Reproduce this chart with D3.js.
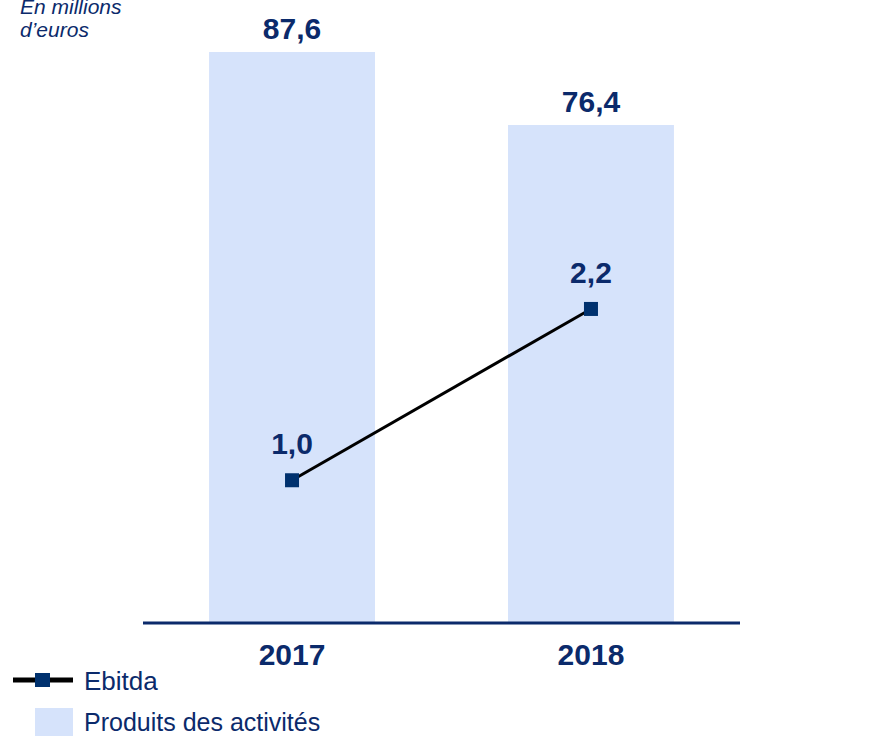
<!DOCTYPE html>
<html>
<head>
<meta charset="utf-8">
<script src="https://cdn.jsdelivr.net/npm/d3@7"></script>
<style>
  html, body { margin: 0; padding: 0; background: #fff; }
  svg { display: block; font-family: "Liberation Sans", Arial, sans-serif; }
</style>
</head>
<body>
<svg id="chart" width="879" height="736"></svg>
<script>
// Chart data
const years = ["2017", "2018"];
const produits = [87.6, 76.4];   // Produits des activités (M€)
const ebitda = [1.0, 2.2];       // Ebitda (M€)
const produitsLabels = ["87,6", "76,4"];
const ebitdaLabels = ["1,0", "2,2"];

const navy = "#0B2A6B";
const barFill = "#D6E3FB";
const labelSize = 30;

const svg = d3.select("#chart");

const baseY = 623;
const x = d3.scaleBand().domain(years).range([143, 740])
  .paddingInner(0.445).paddingOuter(0.221);
const yBar = d3.scaleLinear().domain([0, 87.6]).range([baseY, 52]);
const yLine = d3.scaleLinear().domain([0, 4.0]).range([baseY, 52]);

// Unit note
const unit = svg.append("text").attr("fill", navy)
  .attr("font-size", 21).attr("font-style", "italic");
unit.append("tspan").attr("x", 20).attr("y", 14).text("En millions");
unit.append("tspan").attr("x", 20).attr("y", 37).text("d’euros");

// Bars
svg.selectAll("rect.bar").data(years).join("rect")
  .attr("class", "bar")
  .attr("x", d => x(d))
  .attr("y", (d, i) => yBar(produits[i]))
  .attr("width", x.bandwidth())
  .attr("height", (d, i) => baseY - yBar(produits[i]))
  .attr("fill", barFill);

// Bar value labels
svg.selectAll("text.barlab").data(years).join("text")
  .attr("class", "barlab")
  .attr("x", d => x(d) + x.bandwidth() / 2)
  .attr("y", (d, i) => yBar(produits[i]) - 13)
  .attr("text-anchor", "middle")
  .attr("font-size", labelSize).attr("font-weight", "bold").attr("fill", navy)
  .text((d, i) => produitsLabels[i]);

// Baseline axis
const xAxis = d3.axisBottom(x).tickSize(0).tickPadding(0);
const gx = svg.append("g").attr("transform", `translate(0,${baseY})`).call(xAxis);
gx.select(".domain").attr("d", `M143,0H740`).attr("stroke", navy).attr("stroke-width", 3);
gx.selectAll(".tick text")
  .attr("font-size", labelSize).attr("font-weight", "bold").attr("fill", navy)
  .attr("font-family", "Liberation Sans, Arial, sans-serif")
  .attr("y", 42).attr("dy", null);

// Ebitda line
const cx = d => x(d) + x.bandwidth() / 2;
const line = d3.line().x(d => cx(d)).y((d, i) => yLine(ebitda[i]));
svg.append("path").datum(years)
  .attr("d", line)
  .attr("fill", "none").attr("stroke", "#000").attr("stroke-width", 3);

const ms = 14;
svg.selectAll("rect.marker").data(years).join("rect")
  .attr("class", "marker")
  .attr("x", d => cx(d) - ms / 2)
  .attr("y", (d, i) => yLine(ebitda[i]) - ms / 2)
  .attr("width", ms).attr("height", ms)
  .attr("fill", "#00316E");

svg.selectAll("text.linelab").data(years).join("text")
  .attr("class", "linelab")
  .attr("x", d => cx(d))
  .attr("y", (d, i) => yLine(ebitda[i]) - 26)
  .attr("text-anchor", "middle")
  .attr("font-size", labelSize).attr("font-weight", "bold").attr("fill", navy)
  .text((d, i) => ebitdaLabels[i]);

// Legend
const lg = svg.append("g");
lg.append("line").attr("x1", 13).attr("x2", 73).attr("y1", 680).attr("y2", 680)
  .attr("stroke", "#000").attr("stroke-width", 5);
lg.append("rect").attr("x", 35).attr("y", 673).attr("width", 15).attr("height", 14)
  .attr("fill", "#00316E");
lg.append("text").attr("x", 84).attr("y", 690).attr("font-size", 26).attr("fill", navy)
  .text("Ebitda");
lg.append("rect").attr("x", 35).attr("y", 708).attr("width", 38).attr("height", 28)
  .attr("fill", barFill);
lg.append("text").attr("x", 84).attr("y", 731).attr("font-size", 25).attr("fill", navy)
  .text("Produits des activités");
</script>
</body>
</html>
